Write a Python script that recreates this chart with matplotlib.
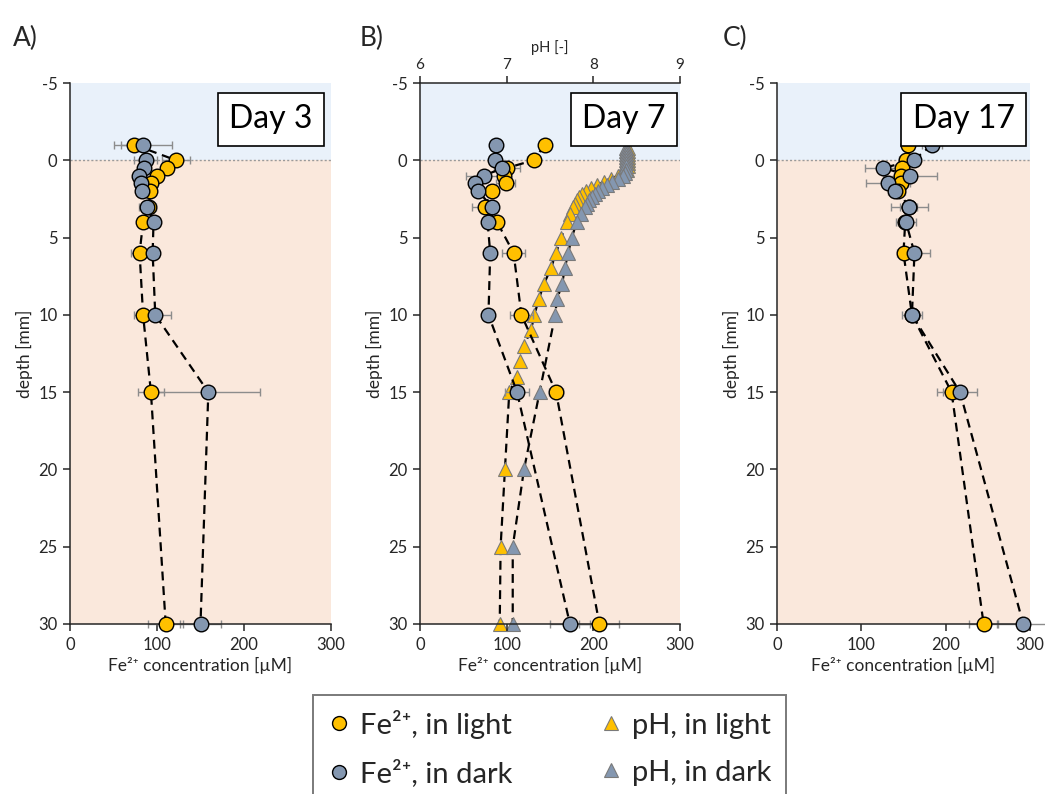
import matplotlib
matplotlib.use("Agg")
import matplotlib.pyplot as plt
from matplotlib.lines import Line2D

plt.rcParams["font.family"] = ["Lato", "DejaVu Sans"]
plt.rcParams["axes.unicode_minus"] = False

# ---------------------------------------------------------------- data
fe_depth = [-1, 0, 0.5, 1, 1.5, 2, 3, 4, 6, 10, 15, 30]

day3_fe_light = [74, 122, 112, 100, 93, 92, 91, 84, 80, 84, 93, 110]
day3_fe_light_err = [15, 16, 6, 6, 6, 6, 6, 6, 10, 11, 15, 20]
day3_fe_dark = [84, 87, 85, 79, 82, 83, 89, 96, 95, 98, 159, 150]
day3_fe_dark_err = [33, 13, 5, 5, 5, 5, 10, 5, 5, 18, 59, 24]

day7_fe_light = [144, 131, 100, 97, 99, 83, 75, 89, 108, 117, 157, 207]
day7_fe_light_err = [4, 8, 15, 5, 11, 5, 15, 5, 13, 13, 8, 23]
day7_fe_dark = [88, 87, 95, 74, 64, 67, 83, 78, 81, 79, 112, 173]
day7_fe_dark_err = [6, 5, 5, 21, 5, 5, 5, 5, 5, 5, 14, 23]

day7_ph_light_depth = [-0.8, -0.6, -0.4, -0.2, 0, 0.2, 0.4, 0.6, 0.8, 1.0, 1.2,
                       1.4, 1.6, 1.8, 2.0, 2.2, 2.4, 2.6, 2.8, 3.0, 3.5, 4.0,
                       5, 6, 7, 8, 9, 10, 11, 12, 13, 14, 15, 20, 25, 30]
day7_ph_light = [8.40, 8.40, 8.40, 8.40, 8.40, 8.40, 8.40, 8.39, 8.35, 8.28, 8.20,
                 8.12, 8.04, 7.97, 7.92, 7.87, 7.83, 7.81, 7.79, 7.77, 7.73, 7.70,
                 7.63, 7.57, 7.51, 7.43, 7.37, 7.32, 7.28, 7.20, 7.15, 7.12, 7.03,
                 6.98, 6.93, 6.92]
day7_ph_dark_depth = [-0.8, -0.6, -0.4, -0.2, 0, 0.2, 0.4, 0.6, 0.8, 1.0, 1.2,
                      1.4, 1.6, 1.8, 2.0, 2.2, 2.4, 2.6, 2.8, 3.0, 3.5, 4.0,
                      5, 6, 7, 8, 9, 10, 15, 20, 25, 30]
day7_ph_dark = [8.38, 8.38, 8.38, 8.38, 8.38, 8.38, 8.38, 8.38, 8.37, 8.34, 8.28,
                8.22, 8.16, 8.10, 8.05, 8.02, 7.98, 7.95, 7.93, 7.90, 7.86, 7.81,
                7.75, 7.71, 7.67, 7.64, 7.58, 7.56, 7.38, 7.20, 7.07, 7.07]

day17_fe_light = [155, 153, 148, 147, 147, 144, 156, 152, 150, 160, 207, 245]
day17_fe_light_err = [5, 8, 8, 8, 8, 8, 10, 8, 8, 8, 17, 17]
day17_fe_dark = [184, 162, 126, 158, 132, 140, 157, 153, 163, 160, 217, 292]
day17_fe_dark_err = [12, 8, 22, 32, 26, 8, 22, 12, 18, 12, 20, 31]

depth_ticks = [-5, 0, 5, 10, 15, 20, 25, 30]
fe_ticks = [0, 100, 200, 300]
ph_ticks = [6, 7, 8, 9]

# ---------------------------------------------------------------- style
GOLD = "#FFC000"
SLATE = "#8497B0"
WATER = "#E9F1FA"
SEDIMENT = "#FAE8DC"
ERR = "#8C8C8C"
INK = "#262626"
DASH = (0, (4, 2.6))
TICK_FS = 12
LABEL_FS = 12.5
FE_LABEL = "Fe²⁺ concentration [µM]"

FIG_W, FIG_H = 1045, 794
fig = plt.figure(figsize=(FIG_W / 100, FIG_H / 100), dpi=100)


def px_rect(x0, x1, y0, y1):
    return [x0 / FIG_W, 1 - y1 / FIG_H, (x1 - x0) / FIG_W, (y1 - y0) / FIG_H]


def setup_axis(ax, bg_ax):
    bg_ax.axhspan(-5, 0, color=WATER, zorder=0, lw=0)
    bg_ax.axhspan(0, 30, color=SEDIMENT, zorder=0, lw=0)
    bg_ax.axhline(0, color="#9A9A9A", lw=1.0, ls=(0, (1.5, 1.5)), zorder=1)
    ax.set_ylim(30, -5)
    ax.set_xlim(0, 300)
    ax.set_yticks(depth_ticks)
    ax.set_xticks(fe_ticks)
    for side in ("top", "right"):
        ax.spines[side].set_visible(False)
    for side in ("left", "bottom"):
        ax.spines[side].set_linewidth(1.1)
        ax.spines[side].set_color(INK)
    ax.tick_params(direction="out", length=5, width=1.1, color=INK,
                   labelsize=TICK_FS, labelcolor=INK, pad=4)
    ax.set_ylabel("depth [mm]", fontsize=LABEL_FS, color=INK, labelpad=4)
    ax.set_xlabel(FE_LABEL, fontsize=LABEL_FS, color=INK, labelpad=3)


def draw_fe(ax, light, light_err, dark, dark_err):
    for vals, err, color, z in ((light, light_err, GOLD, 5),
                                (dark, dark_err, SLATE, 6)):
        ax.errorbar(vals, fe_depth, xerr=err, fmt="none", ecolor=ERR,
                    elinewidth=1.0, capsize=3, capthick=1.0, zorder=2,
                    clip_on=False)
        ax.plot(vals, fe_depth, ls=DASH, color="black", lw=1.6, zorder=3,
                clip_on=False)
        ax.plot(vals, fe_depth, ls="none", marker="o", ms=10.5, mfc=color,
                mec="black", mew=1.0, zorder=z, clip_on=False)


def day_box(ax, text, x_right):
    ax.text(x_right, 0.961, text, transform=ax.transAxes, ha="right", va="top",
            fontsize=23, color="black", zorder=20,
            bbox=dict(boxstyle="square,pad=0.36", fc="white", ec="black", lw=1.2))


# ---------------------------------------------------------------- panel A
axA = fig.add_axes(px_rect(70, 331, 83, 624))
setup_axis(axA, axA)
draw_fe(axA, day3_fe_light, day3_fe_light_err, day3_fe_dark, day3_fe_dark_err)
day_box(axA, "Day 3", 0.93)

# ---------------------------------------------------------------- panel B
axB = fig.add_axes(px_rect(420, 680, 83, 624))
axPH = axB.twiny()
setup_axis(axB, axPH)
axB.set_zorder(axPH.get_zorder() + 1)
axB.patch.set_visible(False)
axPH.set_xlim(6, 9)
axPH.set_xticks(ph_ticks)
for side in ("left", "right", "bottom"):
    axPH.spines[side].set_visible(False)
axPH.spines["top"].set_linewidth(1.1)
axPH.spines["top"].set_color(INK)
axPH.tick_params(direction="out", length=5, width=1.1, color=INK,
                 labelsize=11, labelcolor=INK, pad=3)
axPH.set_xlabel("pH [-]", fontsize=10.5, color=INK, labelpad=4)
for d, p, color, z in ((day7_ph_light_depth, day7_ph_light, GOLD, 3),
                       (day7_ph_dark_depth, day7_ph_dark, SLATE, 4)):
    axPH.plot(p, d, ls=DASH, color="black", lw=1.6, zorder=2, clip_on=False)
    axPH.plot(p, d, ls="none", marker="^", ms=10, mfc=color, mec="#7A7A7A",
              mew=0.8, zorder=z, clip_on=False)
draw_fe(axB, day7_fe_light, day7_fe_light_err, day7_fe_dark, day7_fe_dark_err)
day_box(axB, "Day 7", 0.945)

# ---------------------------------------------------------------- panel C
axC = fig.add_axes(px_rect(777, 1030, 83, 624))
setup_axis(axC, axC)
draw_fe(axC, day17_fe_light, day17_fe_light_err, day17_fe_dark, day17_fe_dark_err)
day_box(axC, "Day 17", 0.94)

# ---------------------------------------------------------------- labels
for x, lab in ((25, "A)"), (372, "B)"), (735, "C)")):
    fig.text(x / FIG_W, 1 - 38 / FIG_H, lab, fontsize=19,
             ha="center", va="center", color=INK)

# ---------------------------------------------------------------- legend
handles = [
    Line2D([], [], ls="none", marker="o", ms=10, mfc=GOLD, mec="black", mew=1.0),
    Line2D([], [], ls="none", marker="o", ms=10, mfc=SLATE, mec="black", mew=1.0),
    Line2D([], [], ls="none", marker="^", ms=10, mfc=GOLD, mec="#7A7A7A", mew=0.8),
    Line2D([], [], ls="none", marker="^", ms=10, mfc=SLATE, mec="#7A7A7A", mew=0.8),
]
labels = ["Fe²⁺, in light", "Fe²⁺, in dark", "pH, in light", "pH, in dark"]
leg = fig.legend(handles, labels, ncol=2, loc="upper center",
                 bbox_to_anchor=(549.5 / FIG_W, 1 - 695 / FIG_H),
                 fontsize=21, frameon=True, fancybox=False, edgecolor="#595959",
                 handlelength=0.8, handletextpad=0.3, columnspacing=3.0,
                 borderpad=0.5, labelspacing=0.72, borderaxespad=0)
leg.get_frame().set_linewidth(1.4)
for t in leg.get_texts():
    t.set_color(INK)

fig.savefig("out.png", dpi=100)
